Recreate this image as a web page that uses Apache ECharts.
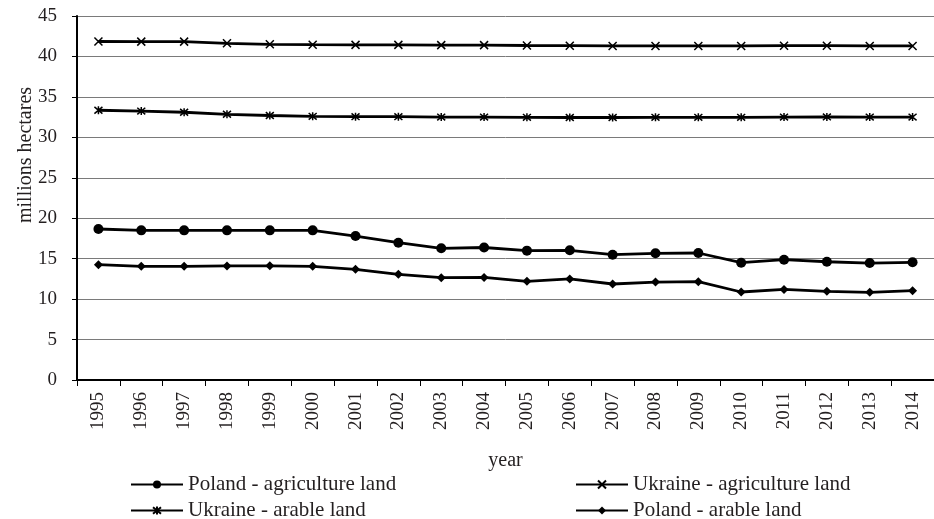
<!DOCTYPE html>
<html>
<head>
<meta charset="utf-8">
<script src="https://cdn.jsdelivr.net/npm/echarts@6/dist/echarts.min.js"></script>
<style>html,body{margin:0;padding:0;background:#fff}#c{width:934px;height:519px}</style>
</head>
<body>
<div id="c"></div>
<script>
const years = ['1995','1996','1997','1998','1999','2000','2001','2002','2003','2004','2005','2006','2007','2008','2009','2010','2011','2012','2013','2014'];
const polandAgri = [18.67,18.5,18.5,18.5,18.5,18.5,17.8,16.97,16.28,16.38,15.99,16.03,15.49,15.66,15.7,14.5,14.87,14.62,14.46,14.55];
const ukraineAgri = [41.85,41.83,41.83,41.62,41.5,41.45,41.43,41.43,41.4,41.4,41.35,41.33,41.3,41.3,41.3,41.3,41.33,41.33,41.3,41.3];
const ukraineArable = [33.35,33.25,33.1,32.85,32.7,32.6,32.55,32.55,32.5,32.5,32.47,32.45,32.45,32.47,32.47,32.47,32.5,32.52,32.5,32.5];
const polandArable = [14.26,14.05,14.05,14.1,14.12,14.05,13.68,13.06,12.65,12.68,12.2,12.49,11.87,12.1,12.15,10.88,11.2,10.96,10.84,11.04];
const yTicks = {min: 0, max: 45, interval: 5};

const FONT = "'Liberation Serif', 'Times New Roman', serif";
const TXT = '#231f20';
const crossPath = 'path://M0,0L10,10M10,0L0,10';
const starPath = 'path://M0,0L10,10M10,0L0,10M5,-1L5,11';

function lineSeries(name, data, symbol, size, stroke) {
  return {
    name, type: 'line', data, symbol, symbolSize: size,
    lineStyle: {color: '#000', width: 2.8},
    itemStyle: stroke ? {color: 'rgba(0,0,0,0)', borderColor: '#000', borderWidth: 1.5} : {color: '#000', borderWidth: 0},
    emphasis: {disabled: true},
    animation: false
  };
}

const legendCommon = {
  orient: 'vertical', top: 474, height: 80, padding: 0,
  itemGap: 5, itemWidth: 52, itemHeight: 10,
  textStyle: {fontFamily: FONT, fontSize: 21, color: TXT}, selectedMode: false
};

const chart = echarts.init(document.getElementById('c'));
chart.setOption({
  backgroundColor: '#fff',
  animation: false,
  grid: {left: 77, right: -7, top: 16, bottom: 139},
  legend: [
    Object.assign({data: ['Poland - agriculture land', 'Ukraine - arable land'], left: 130}, legendCommon),
    Object.assign({data: ['Ukraine - agriculture land', 'Poland - arable land'], left: 575}, legendCommon)
  ],
  xAxis: {
    type: 'category', data: years, boundaryGap: true,
    name: 'year', nameLocation: 'middle', nameGap: 71,
    nameTextStyle: {fontFamily: FONT, fontSize: 20, color: TXT},
    axisLine: {lineStyle: {color: '#000', width: 2}},
    axisTick: {show: true, interval: 0, length: 6, lineStyle: {color: '#000', width: 1}},
    axisLabel: {interval: 0, rotate: 90, margin: 12, fontFamily: FONT, fontSize: 19, color: TXT},
    splitLine: {show: false}
  },
  yAxis: {
    type: 'value', min: yTicks.min, max: yTicks.max, interval: yTicks.interval,
    axisLine: {show: true, lineStyle: {color: '#000', width: 2}},
    axisTick: {show: true, length: 5, lineStyle: {color: '#000', width: 1}},
    axisLabel: {margin: 20, fontFamily: FONT, fontSize: 19, color: TXT},
    splitLine: {show: true, lineStyle: {color: '#7a7a7a', width: 1}}
  },
  graphic: [{
    type: 'text', x: 26, y: 155, rotation: Math.PI / 2,
    style: {text: 'millions hectares', fontFamily: FONT, fontSize: 20, fill: TXT, align: 'center', verticalAlign: 'middle'}
  }],
  series: [
    lineSeries('Poland - agriculture land', polandAgri, 'circle', 10, false),
    lineSeries('Ukraine - agriculture land', ukraineAgri, crossPath, 8, true),
    lineSeries('Ukraine - arable land', ukraineArable, starPath, 8, true),
    lineSeries('Poland - arable land', polandArable, 'diamond', 9, false)
  ]
});
</script>
</body>
</html>
